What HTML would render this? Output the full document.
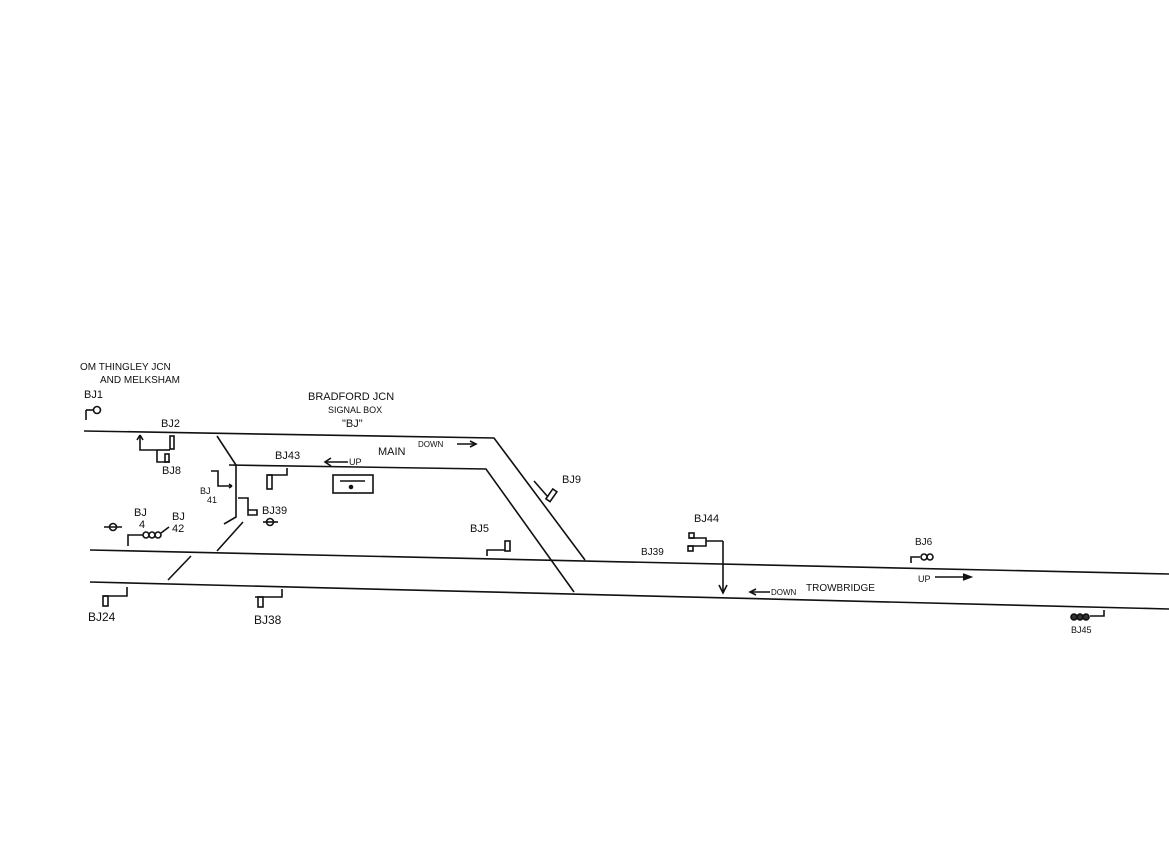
<!DOCTYPE html>
<html><head><meta charset="utf-8"><style>
html,body{margin:0;padding:0;background:#fff;}
svg{display:block}
text{font-family:"Liberation Sans",sans-serif;fill:#111;}
</style></head><body>
<svg width="1169" height="850" viewBox="0 0 1169 850" xmlns="http://www.w3.org/2000/svg">
<g stroke="#111" stroke-width="1.6" fill="none">
<!-- main tracks -->
<polyline points="84,431 494,438 585,560"/>
<polyline points="229,465 486,469 574,592"/>
<line x1="90" y1="550" x2="1169" y2="574"/>
<line x1="90" y1="582" x2="1169" y2="609"/>
<!-- crossover lines -->
<polyline points="217,436 236,465 236,517 224,524"/>
<line x1="243" y1="522" x2="217" y2="551"/>
<line x1="191" y1="556" x2="168" y2="580"/>
<!-- BJ1 -->
<line x1="86" y1="410" x2="86" y2="420"/><line x1="86" y1="410" x2="93" y2="410"/>
<circle cx="97" cy="410" r="3.5"/>
<!-- BJ2 / BJ8 -->
<polyline points="140,436 140,450 157,450 157,462 170,462"/>
<line x1="137" y1="440" x2="140" y2="435"/><line x1="143" y1="440" x2="140" y2="435"/>
<polyline points="157,450 170,450"/>
<rect x="170" y="436" width="4" height="13"/><rect x="165" y="454" width="4" height="8"/>
<!-- BJ41 -->
<polyline points="211,471 218,471 218,486 232,486"/><line x1="229" y1="484" x2="232" y2="486"/><line x1="229" y1="488" x2="232" y2="486"/>
<!-- BJ39 left -->
<polyline points="238,498 248,498 248,515 257,515 257,510 248,510"/>
<!-- BJ43 -->
<polyline points="267,475 287,475 287,468"/><rect x="267" y="475" width="5" height="14"/>
<!-- arrow up -->
<line x1="325" y1="462" x2="348" y2="462"/><polyline points="331,458 325,462 331,466"/>
<!-- box -->
<rect x="333" y="475" width="40" height="18"/>
<line x1="340" y1="481" x2="365" y2="481"/>
<circle cx="351" cy="487" r="1.5" fill="#111"/>
<!-- down arrow top -->
<line x1="457" y1="444" x2="475" y2="444"/><polyline points="470,441 476,444 470,447"/>
<!-- BJ9 -->
<line x1="534" y1="481" x2="548" y2="497"/><rect x="549" y="489" width="5" height="12" transform="rotate(35 551 495)"/>
<!-- BJ5 -->
<polyline points="487,556 487,550 505,550"/><rect x="505" y="541" width="5" height="10"/>
<!-- BJ4/42 -->
<line x1="104" y1="527" x2="122" y2="527"/><circle cx="113" cy="527" r="3.5"/>
<polyline points="128,546 128,535 143,535"/><circle cx="146" cy="535" r="3"/><circle cx="152" cy="535" r="3"/><circle cx="158" cy="535" r="3"/>
<line x1="161" y1="533" x2="169" y2="527"/>
<line x1="263" y1="522" x2="278" y2="522"/><circle cx="270" cy="522" r="3.5"/>
<!-- BJ24 -->
<polyline points="103,596 127,596 127,587"/><rect x="103" y="596" width="5" height="10"/>
<!-- BJ38 -->
<polyline points="255,597 282,597 282,589"/><rect x="258" y="597" width="5" height="10"/>
<!-- BJ44 -->
<polyline points="689,538 706,538 706,546 688,546"/><rect x="689" y="533" width="5" height="5"/><rect x="688" y="546" width="5" height="5"/>
<polyline points="706,541 723,541"/>
<line x1="723" y1="541" x2="723" y2="592"/><polyline points="719,585 723,593 727,585"/>
<line x1="750" y1="592" x2="770" y2="592"/><polyline points="756,589 750,592 756,595"/>
<!-- BJ6 -->
<polyline points="911,563 911,557 920,557"/><circle cx="924" cy="557" r="3"/><circle cx="930" cy="557" r="3"/>
<line x1="935" y1="577" x2="970" y2="577"/><polyline points="963,574 971,577 963,580" fill="#111"/>
<!-- BJ45 -->
<circle cx="1074" cy="617" r="3" fill="#333"/><circle cx="1080" cy="617" r="3" fill="#333"/><circle cx="1086" cy="617" r="3" fill="#333"/>
<polyline points="1090,616 1104,616 1104,610"/>
</g>
<g font-size="10">
<text x="80" y="370" font-size="10">OM THINGLEY JCN</text>
<text x="100" y="383" font-size="10">AND MELKSHAM</text>
<text x="84" y="398" font-size="11">BJ1</text>
<text x="161" y="427" font-size="11">BJ2</text>
<text x="162" y="474" font-size="11">BJ8</text>
<text x="308" y="400" font-size="11">BRADFORD JCN</text>
<text x="328" y="413" font-size="9">SIGNAL BOX</text>
<text x="342" y="427" font-size="11">"BJ"</text>
<text x="378" y="455" font-size="11">MAIN</text>
<text x="418" y="447" font-size="8">DOWN</text>
<text x="349" y="465" font-size="9">UP</text>
<text x="275" y="459" font-size="11">BJ43</text>
<text x="200" y="494" font-size="9">BJ</text>
<text x="207" y="503" font-size="9">41</text>
<text x="262" y="514" font-size="11">BJ39</text>
<text x="134" y="516" font-size="11">BJ</text>
<text x="139" y="528" font-size="11">4</text>
<text x="172" y="520" font-size="11">BJ</text>
<text x="172" y="532" font-size="11">42</text>
<text x="562" y="483" font-size="11">BJ9</text>
<text x="470" y="532" font-size="11">BJ5</text>
<text x="88" y="621" font-size="12">BJ24</text>
<text x="254" y="624" font-size="12">BJ38</text>
<text x="694" y="522" font-size="11">BJ44</text>
<text x="641" y="555" font-size="10">BJ39</text>
<text x="915" y="545" font-size="10">BJ6</text>
<text x="918" y="582" font-size="9">UP</text>
<text x="771" y="595" font-size="8">DOWN</text>
<text x="806" y="591" font-size="10">TROWBRIDGE</text>
<text x="1071" y="633" font-size="9">BJ45</text>
</g>
</svg>
</body></html>
